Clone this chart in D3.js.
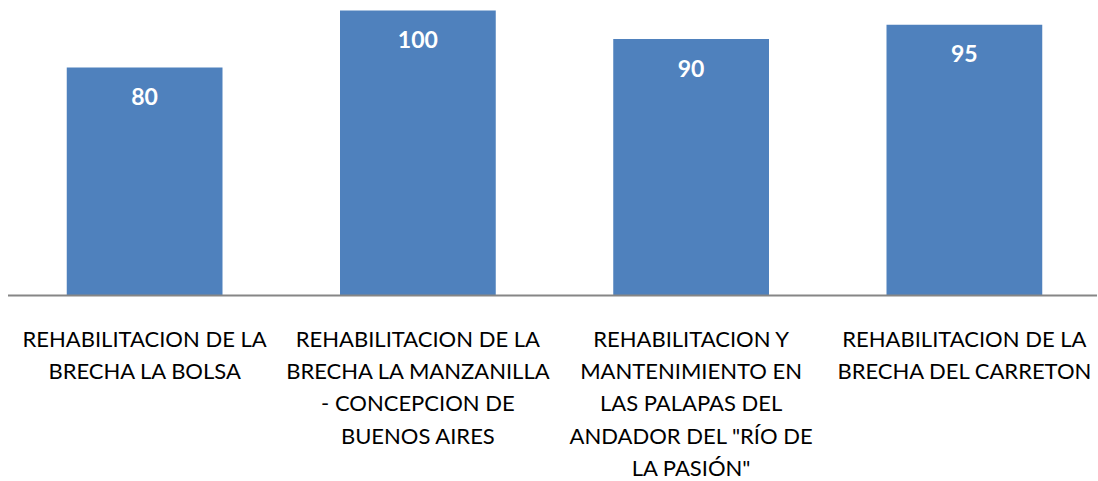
<!DOCTYPE html>
<html>
<head>
<meta charset="utf-8">
<script src="https://cdn.jsdelivr.net/npm/d3@7"></script>
<style>
  body { margin: 0; background: white; }
  svg { display: block; }
</style>
</head>
<body>
<svg id="chart" width="1098" height="481"></svg>
<script>
const categories = [
    'REHABILITACION DE LA\nBRECHA LA BOLSA',
    'REHABILITACION DE LA\nBRECHA LA MANZANILLA\n- CONCEPCION DE\nBUENOS AIRES',
    'REHABILITACION Y\nMANTENIMIENTO EN\nLAS PALAPAS DEL\nANDADOR DEL "RÍO DE\nLA PASIÓN"',
    'REHABILITACION DE LA\nBRECHA DEL CARRETON'
]
const values = [80, 100, 90, 95]

const width = 1098
const height = 481
const baseline = 295.5

const svg = d3.select('#chart')

const x = d3.scaleBand()
    .domain(categories)
    .range([8, 1101])
    .paddingInner(0.43)
    .paddingOuter(0.215)

const y = d3.scaleLinear()
    .domain([0, 100])
    .range([baseline, 10.5])

// bars
svg.append('g')
    .selectAll('rect')
    .data(values)
    .join('rect')
    .attr('x', (d, i) => x(categories[i]))
    .attr('y', d => y(d))
    .attr('width', x.bandwidth())
    .attr('height', d => y(0) - y(d))
    .attr('fill', '#4F81BD')

// value labels
svg.append('g')
    .selectAll('text')
    .data(values)
    .join('text')
    .attr('x', (d, i) => x(categories[i]) + x.bandwidth() / 2)
    .attr('y', d => y(d) + 37.5)
    .attr('text-anchor', 'middle')
    .attr('fill', 'white')
    .attr('font-family', 'Lato, "Open Sans", sans-serif')
    .attr('font-weight', 'bold')
    .attr('font-size', 23)
    .text(d => d)

// axis line
svg.append('line')
    .attr('x1', 8)
    .attr('x2', 1097)
    .attr('y1', baseline)
    .attr('y2', baseline)
    .attr('stroke', '#868686')
    .attr('stroke-width', 2)

// category labels
const labels = svg.append('g')
    .attr('font-family', 'Lato, "Open Sans", sans-serif')
    .attr('font-size', 22)
    .attr('fill', '#000')
    .attr('text-anchor', 'middle')
    .selectAll('text')
    .data(categories)
    .join('text')
    .attr('x', d => x(d) + x.bandwidth() / 2)
    .attr('y', 346.5)

labels.selectAll('tspan')
    .data(d => d.split('\n'))
    .join('tspan')
    .attr('x', function () { return d3.select(this.parentNode).attr('x') })
    .attr('dy', (d, i) => i === 0 ? 0 : 32.4)
    .text(d => d)
</script>
</body>
</html>
